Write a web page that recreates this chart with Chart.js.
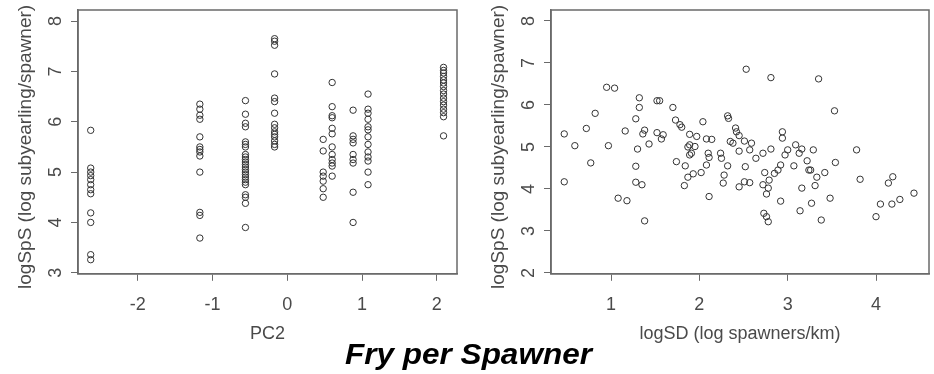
<!DOCTYPE html>
<html>
<head>
<meta charset="utf-8">
<script src="https://cdn.jsdelivr.net/npm/chart.js@4"></script>
<style>
  html, body { margin: 0; padding: 0; background: #fff; }
  #wrap { position: relative; width: 934px; height: 374px; overflow: hidden; }
  canvas { position: absolute; top: 0; }
  #left { left: 0; }
  #right { left: 467px; }
  #title {
    position: absolute; left: 0; top: 339px; width: 937px; text-align: center;
    font: italic bold 30px 'Liberation Sans', Arial, sans-serif; line-height: 30px; color: #000;
    transform: scaleX(1.05);
  }
</style>
</head>
<body>
<div id="wrap">
  <canvas id="left" width="467" height="374"></canvas>
  <canvas id="right" width="467" height="374"></canvas>
  <div id="title">Fry per Spawner</div>
</div>
<script>
// ---- data ----
// left panel: PC2 takes a few distinct values, each with a column of logSpS values
const pc2Levels = [-2.63, -1.17, -0.56, -0.17, 0.48, 0.60, 0.88, 1.08, 2.09];
const logSpSByPC2 = [
  [5.83, 5.08, 5.0, 4.93, 4.85, 4.75, 4.65, 4.57, 4.19, 4.0, 3.36, 3.26],
  [6.35, 6.25, 6.13, 6.05, 5.7, 5.5, 5.45, 5.4, 5.32, 5.0, 4.2, 4.14, 3.69],
  [6.42, 6.15, 5.97, 5.9, 5.6, 5.55, 5.5, 5.35, 5.3, 5.25, 5.2, 5.15, 5.1, 5.05, 5.0, 4.95, 4.9, 4.85, 4.8, 4.75, 4.55, 4.5, 4.38, 3.9],
  [7.65, 7.6, 7.52, 6.95, 6.47, 6.4, 6.17, 5.95, 5.88, 5.8, 5.75, 5.7, 5.62, 5.55, 5.5],
  [5.65, 5.42, 5.0, 4.92, 4.82, 4.67, 4.5],
  [6.78, 6.3, 6.12, 6.08, 5.87, 5.76, 5.5, 5.35, 5.25, 5.18, 5.12, 4.92],
  [6.23, 5.72, 5.65, 5.58, 5.35, 5.25, 5.18, 4.6, 4.0],
  [6.55, 6.25, 6.17, 6.05, 5.9, 5.84, 5.7, 5.55, 5.4, 5.3, 5.22, 5.0, 4.75],
  [7.08, 7.02, 6.97, 6.9, 6.83, 6.77, 6.7, 6.62, 6.55, 6.47, 6.4, 6.33, 6.25, 6.18, 6.1, 5.72]
];
// right panel: logSD vs logSpS
const logSD = [
  0.95, 1.04, 2.53, 2.81, 3.35, 3.53, 0.82, 1.32, 1.32, 1.52, 1.55, 1.70, 0.47, 0.72, 0.59, 0.97,
  0.77, 0.47, 1.28, 1.16, 1.73, 1.78, 1.80, 1.38, 1.36, 1.52, 1.59, 1.57, 1.43, 1.30, 1.74, 1.28,
  1.28, 1.35, 1.08, 1.18, 1.38, 2.04, 2.32, 2.33, 1.89, 1.97, 2.08, 2.14, 2.41, 2.42, 2.45, 2.35,
  2.38, 2.51, 2.59, 1.89, 1.87, 1.95, 1.91, 1.89, 2.10, 2.11, 2.08, 2.24, 2.25, 2.45, 2.57, 2.64,
  2.72, 2.81, 2.94, 2.94, 3.00, 2.97, 3.09, 3.13, 3.07, 1.84, 2.32, 2.52, 1.87, 1.93, 2.02, 2.28,
  2.27, 1.83, 2.45, 2.51, 2.57, 2.72, 2.74, 2.79, 2.85, 2.89, 2.92, 2.78, 2.76, 2.92, 3.14, 2.11,
  2.73, 2.76, 2.78, 3.16, 3.16, 3.29, 3.78, 3.22, 3.24, 3.26, 3.42, 3.54, 3.33, 3.31, 3.82, 4.19,
  4.14, 4.43, 4.27, 4.05, 4.18, 3.48, 3.27, 3.38, 4.00
];
const logSpS = [
  6.42, 6.40, 6.85, 6.65, 6.62, 5.86, 5.80, 6.17, 5.94, 6.10, 6.10, 5.94, 5.31, 5.44, 5.03, 5.03,
  4.62, 4.17, 5.67, 5.38, 5.64, 5.53, 5.47, 5.40, 5.31, 5.34, 5.29, 5.19, 5.07, 4.95, 4.65, 4.54,
  4.16, 4.10, 3.78, 3.72, 3.24, 5.60, 5.74, 5.68, 5.30, 5.25, 5.19, 5.18, 5.45, 5.36, 5.27, 5.13,
  5.09, 5.14, 5.09, 5.05, 5.00, 5.01, 4.85, 4.81, 4.85, 4.75, 4.57, 4.85, 4.73, 4.90, 4.93, 4.73,
  4.85, 4.95, 5.36, 5.21, 4.93, 4.81, 5.05, 4.85, 4.55, 4.55, 4.55, 4.53, 4.28, 4.36, 4.39, 4.33,
  4.14, 4.08, 4.05, 4.17, 4.15, 4.10, 4.39, 4.21, 4.37, 4.45, 4.57, 4.02, 3.88, 3.71, 3.48, 3.82,
  3.42, 3.34, 3.22, 4.02, 4.95, 4.93, 4.93, 4.67, 4.45, 4.45, 4.39, 4.63, 4.28, 4.08, 4.23, 4.29,
  4.14, 3.90, 3.75, 3.64, 3.64, 3.78, 3.66, 3.26, 3.34
];
// axis ticks
const pc2Ticks = [-2, -1, 0, 1, 2];
const leftYTicks = [3, 4, 5, 6, 7, 8];
const sdTicks = [1, 2, 3, 4];
const rightYTicks = [2, 3, 4, 5, 6, 7, 8];
const yTitle = 'logSpS (log subyearling/spawner)';

const FONT = "'Liberation Sans', Arial, sans-serif";
const TEXT = '#4a4a4a';
const LINE = '#6a6a6a';

// R-style extras: box round the plot, rotated y tick labels and y title
const rStyle = {
  id: 'rStyle',
  afterDraw(chart) {
    const { ctx, chartArea: a } = chart;
    const ys = chart.scales.y;
    ctx.save();
    ctx.strokeStyle = LINE;
    ctx.lineWidth = 1.5;
    ctx.strokeRect(a.left, a.top, a.right - a.left, a.bottom - a.top);
    ctx.fillStyle = TEXT;
    ctx.font = '18px ' + FONT;
    ctx.textAlign = 'center';
    ctx.textBaseline = 'middle';
    ys.ticks.forEach(t => {
      ctx.save();
      ctx.translate(a.left - 22, ys.getPixelForValue(t.value));
      ctx.rotate(-Math.PI / 2);
      ctx.fillText(String(t.value), 0, 0);
      ctx.restore();
    });
    ctx.font = '19px ' + FONT;
    ctx.translate(a.left - 52, (a.top + a.bottom) / 2 + 5);
    ctx.rotate(-Math.PI / 2);
    ctx.fillText(yTitle, 0, 0);
    ctx.restore();
  }
};

function makeChart(id, points, xr, yr, xTicks, yTicks, xTitle, pad) {
  return new Chart(document.getElementById(id), {
    type: 'scatter',
    data: {
      datasets: [{
        data: points,
        pointRadius: 3.2,
        pointBorderWidth: 1,
        pointBorderColor: '#333',
        pointBackgroundColor: 'rgba(0,0,0,0)'
      }]
    },
    options: {
      responsive: false,
      animation: false,
      layout: { padding: pad },
      plugins: { legend: { display: false }, tooltip: { enabled: false } },
      scales: {
        x: {
          type: 'linear', min: xr[0], max: xr[1],
          afterBuildTicks: s => { s.ticks = xTicks.map(v => ({ value: v })); },
          grid: { drawOnChartArea: false, drawTicks: true, tickLength: 7, color: LINE },
          border: { color: LINE, width: 1.5 },
          ticks: { font: { size: 18, family: FONT }, color: TEXT, padding: 13, maxRotation: 0, autoSkip: false },
          title: { display: true, text: xTitle, font: { size: 18, family: FONT }, color: TEXT, padding: { top: -5, bottom: 0 } }
        },
        y: {
          type: 'linear', min: yr[0], max: yr[1],
          afterBuildTicks: s => { s.ticks = yTicks.map(v => ({ value: v })); },
          grid: { drawOnChartArea: false, drawTicks: true, tickLength: 7, color: LINE },
          border: { color: LINE, width: 1.5 },
          ticks: { display: false },
          title: { display: false }
        }
      }
    },
    plugins: [rStyle]
  });
}

const leftPoints = [];
pc2Levels.forEach((x, i) => logSpSByPC2[i].forEach(y => leftPoints.push({ x: x, y: y })));
const rightPoints = logSD.map((x, i) => ({ x: x, y: logSpS[i] }));

makeChart('left', leftPoints, [-2.80, 2.27], [2.98, 8.22], pc2Ticks, leftYTicks, 'PC2',
  { top: 10, right: 10, left: 71, bottom: 29 });
makeChart('right', rightPoints, [0.32, 4.60], [1.98, 8.26], sdTicks, rightYTicks, 'logSD (log spawners/km)',
  { top: 10, right: 4, left: 77, bottom: 29 });
</script>
</body>
</html>
